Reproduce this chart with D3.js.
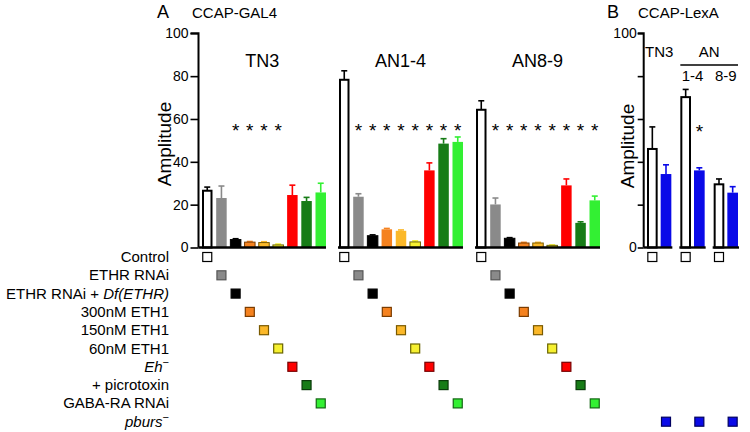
<!DOCTYPE html>
<html><head><meta charset="utf-8">
<script src="https://cdn.jsdelivr.net/npm/d3@7"></script>
<style>
body{margin:0;background:#fff;}
svg{display:block;font-family:"Liberation Sans",Arial,sans-serif;}
</style></head>
<body><svg id="c" width="750" height="432"></svg>
<script>
// ---------- data ----------
const conditions = ["Control","ETHR RNAi","ETHR RNAi + Df(ETHR)","300nM ETH1","150nM ETH1","60nM ETH1","Eh−","+ picrotoxin","GABA-RA RNAi","pburs−"];
const groupsA = ["TN3","AN1-4","AN8-9"];
const meanTN3 = [26.5, 23.1, 3.7, 2.5, 2.3, 1.2, 24.5, 21.7, 25.7];
const errTN3  = [1.7, 5.6, 0.4, 0.3, 0.4, 0.4, 4.6, 1.7, 4.3];
const meanAN14 = [78.3, 23.7, 5.5, 8.5, 7.8, 2.6, 36.0, 48.5, 49.3];
const errAN14  = [4.2, 1.4, 0.4, 0.4, 0.4, 0.5, 3.5, 2.3, 2.3];
const meanAN89 = [64.3, 20.1, 4.3, 2.1, 2.1, 1.0, 29.0, 11.5, 22.0];
const errAN89  = [4.2, 3.0, 0.3, 0.3, 0.3, 0.2, 3.0, 0.5, 2.0];
const starsTN3 = [2,3,4,5];
const starsAN14 = [1,2,3,4,5,6,7,8];
const starsAN89 = [1,2,3,4,5,6,7,8];
const groupsB = ["TN3","1-4","8-9"];
const meanBControl = [46.0, 70.2, 29.5];
const errBControl  = [10.3, 3.6, 2.5];
const meanBPburs   = [34.3, 36.0, 25.6];
const errBPburs    = [4.3, 1.2, 2.8];
const starsB = [1];           // group index with asterisk over pburs bar
const yTicks = [0,20,40,60,80,100];

// ---------- styles ----------
const fills = ["#ffffff","#8a8a8a","#000000","#f5821f","#fbb829","#f6f030","#ff0000","#177c17","#33f033","#0a0ae8"];
const borders = ["#000","#555","#000","#7a3c00","#7a5a00","#6a6400","#700","#0a3a0a","#146614","#000060"];

const svg = d3.select("#c");
const y = d3.scaleLinear().domain([0,100]).range([247.5,33.3]);

function drawBar(g, x, w, v, e, i){
  const ctrl = i===0;
  const col = ctrl ? "#000" : fills[i];
  g.append("line").attr("x1",x+w/2).attr("x2",x+w/2).attr("y1",y(v)).attr("y2",y(v+e))
    .attr("stroke",col).attr("stroke-width",1.6);
  g.append("line").attr("x1",x+w/2-3).attr("x2",x+w/2+3).attr("y1",y(v+e)).attr("y2",y(v+e))
    .attr("stroke",col).attr("stroke-width",1.6);
  if(ctrl){
    g.append("rect").attr("x",x+1).attr("y",y(v)).attr("width",w-2).attr("height",y(0)-y(v))
      .attr("fill","#fff").attr("stroke","#000").attr("stroke-width",2);
  } else {
    const small = (y(0)-y(v)) < 12;
    g.append("rect").attr("x",x).attr("y",y(v)).attr("width",w).attr("height",y(0)-y(v))
      .attr("fill",fills[i]).attr("stroke", small ? borders[i] : "none").attr("stroke-width",1);
  }
}
function legendSquare(g, cx, cy, i){
  g.append("rect").attr("x",cx-4.5).attr("y",cy-4.5).attr("width",9).attr("height",9)
    .attr("fill",fills[i]).attr("stroke",i===0?"#000":borders[i]).attr("stroke-width",1.2);
}
function yAxis(xpos, labels, fs, tl, tp){
  const ax = d3.axisLeft(y).tickValues(yTicks).tickSize(tl).tickPadding(tp)
    .tickFormat(d => labels.includes(d) ? d : "");
  const g = svg.append("g").attr("transform",`translate(${xpos},0)`).call(ax);
  g.select(".domain").attr("stroke","#000").attr("stroke-width",2).attr("d",`M-${tl},${y(100)}H0V${y(0)}`);
  g.selectAll(".tick line").attr("stroke","#000").attr("stroke-width",1.6);
  g.selectAll(".tick text").attr("font-size",fs).attr("fill","#000").attr("font-family","Liberation Sans, Arial, sans-serif");
  return g;
}

// ---------- Panel A ----------
const xA = d3.scaleBand().domain(groupsA).range([202,600]).paddingInner(0.095).paddingOuter(0);
const xInner = d3.scaleBand().domain(d3.range(9)).range([0,xA.bandwidth()]).paddingInner(0.26).paddingOuter(0);
const dataA = [[meanTN3,errTN3,starsTN3],[meanAN14,errAN14,starsAN14],[meanAN89,errAN89,starsAN89]];
const axA = 198.5;
yAxis(axA, yTicks, 14, 8, 2);

const gA = svg.append("g");
groupsA.forEach((gname, gi) => {
  const x0 = xA(gname);
  const [m,e,st] = dataA[gi];
  m.forEach((v,i)=> drawBar(gA, x0+xInner(i), xInner.bandwidth(), v, e[i], i));
  const sx = gi===0 ? axA : x0-1, ex = x0+xA.bandwidth();
  gA.append("line").attr("x1", sx).attr("x2", ex)
    .attr("y1",y(0)).attr("y2",y(0)).attr("stroke","#000").attr("stroke-width",2.4);
  gA.append("text").attr("x",(sx+ex)/2).attr("y",67).attr("text-anchor","middle")
    .attr("font-size",18).text(gname);
  st.forEach(i => gA.append("text").attr("x",x0+xInner(i)+xInner.bandwidth()/2).attr("y",137)
    .attr("text-anchor","middle").attr("font-size",19).text("*"));
  m.forEach((v,i)=> legendSquare(gA, x0+xInner(i)+xInner.bandwidth()/2, 257+i*18.3, i));
});

svg.append("text").attr("transform","translate(171,144) rotate(-90)").attr("text-anchor","middle")
  .attr("font-size",19).text("Amplitude");
svg.append("text").attr("x",157).attr("y",18).attr("font-size",18).text("A");
svg.append("text").attr("x",192).attr("y",18).attr("font-size",15).text("CCAP-GAL4");

// legend labels
const lg = svg.append("g").attr("font-size",15).attr("text-anchor","end");
conditions.forEach((c,i)=>{
  const t = lg.append("text").attr("x",169).attr("y",257+i*18.3+5);
  if(c==="ETHR RNAi + Df(ETHR)"){
    t.append("tspan").text("ETHR RNAi + ");
    t.append("tspan").attr("font-style","italic").text("Df(ETHR)");
  } else if(c.endsWith("−")){
    t.append("tspan").attr("font-style","italic").text(c.slice(0,-1));
    t.append("tspan").attr("font-size",11).attr("dy",-6).text("−");
  } else t.text(c);
});

// ---------- Panel B ----------
const axB = 643.7;
yAxis(axB, [0,100], 14, 6, 1);
const xB = d3.scaleBand().domain(groupsB).range([647,738]).paddingInner(0.27).paddingOuter(0);
const xBi = d3.scaleBand().domain([0,1]).range([0,xB.bandwidth()]).paddingInner(0.22).paddingOuter(0);
const gB = svg.append("g");
groupsB.forEach((gname, gi)=>{
  const x0 = xB(gname);
  drawBar(gB, x0+xBi(0), xBi.bandwidth(), meanBControl[gi], errBControl[gi], 0);
  drawBar(gB, x0+xBi(1), xBi.bandwidth(), meanBPburs[gi], errBPburs[gi], 9);
  gB.append("line").attr("x1", gi===0 ? axB : x0-1).attr("x2", x0+xB.bandwidth()+1)
    .attr("y1",y(0)).attr("y2",y(0)).attr("stroke","#000").attr("stroke-width",2.4);
  legendSquare(gB, x0+xBi(0)+xBi.bandwidth()/2, 257, 0);
  legendSquare(gB, x0+xBi(1)+xBi.bandwidth()/2, 257+9*18.3, 9);
  if(starsB.includes(gi)) gB.append("text").attr("x",x0+xBi(1)+xBi.bandwidth()/2).attr("y",138)
    .attr("text-anchor","middle").attr("font-size",19).text("*");
});
const b1 = xB("1-4"), b2 = xB("8-9");
gB.append("text").attr("x",xB("TN3")+xB.bandwidth()/2).attr("y",57).attr("text-anchor","middle").attr("font-size",15).text("TN3");
gB.append("text").attr("x",(b1+b2+xB.bandwidth())/2).attr("y",57).attr("text-anchor","middle").attr("font-size",15).text("AN");
gB.append("line").attr("x1",b1).attr("x2",b2+xB.bandwidth()).attr("y1",65).attr("y2",65).attr("stroke","#000").attr("stroke-width",1.5);
gB.append("text").attr("x",b1+xB.bandwidth()/2).attr("y",81).attr("text-anchor","middle").attr("font-size",15).text("1-4");
gB.append("text").attr("x",b2+xB.bandwidth()/2).attr("y",81).attr("text-anchor","middle").attr("font-size",15).text("8-9");
svg.append("text").attr("transform","translate(634,146) rotate(-90)").attr("text-anchor","middle")
  .attr("font-size",19).text("Amplitude");
svg.append("text").attr("x",607).attr("y",18).attr("font-size",18).text("B");
svg.append("text").attr("x",638).attr("y",18).attr("font-size",15).text("CCAP-LexA");
</script></body></html>
